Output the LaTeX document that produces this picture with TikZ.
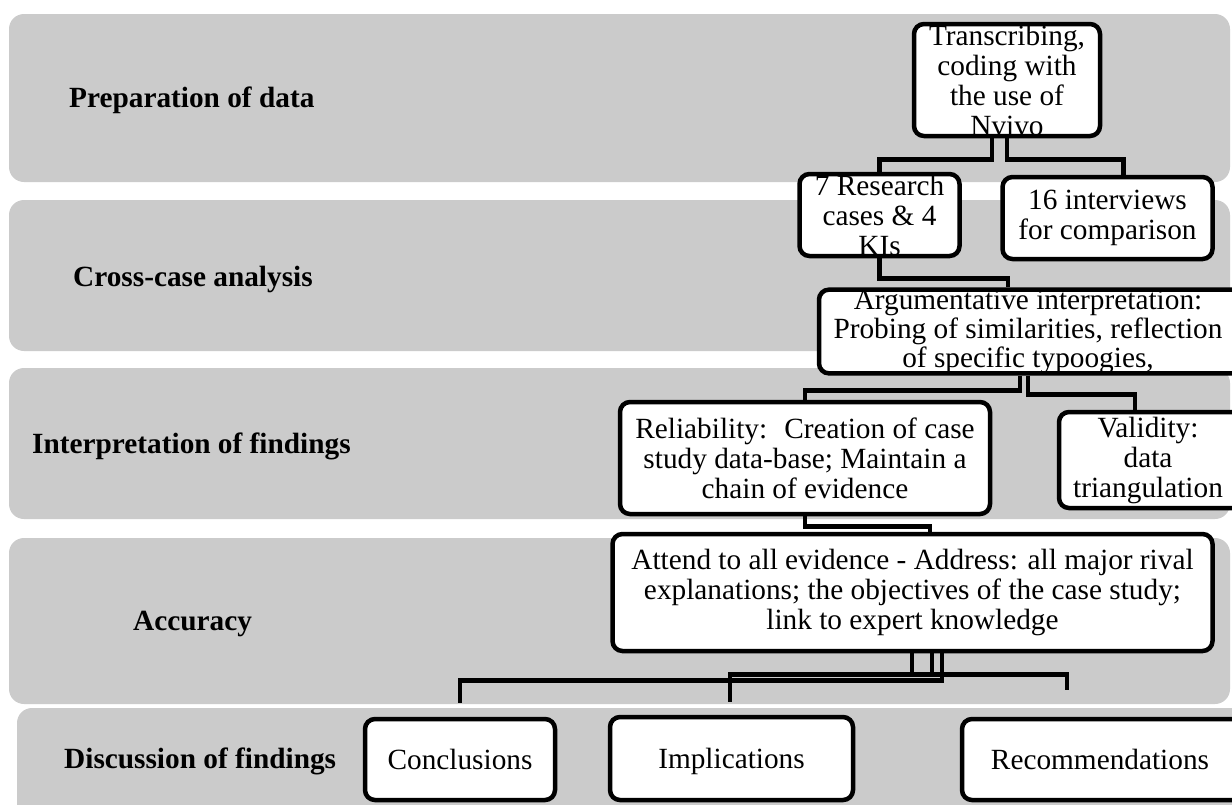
\documentclass[tikz,border=0pt]{standalone}
\usepackage{fontspec}
\setmainfont{Liberation Serif}
\definecolor{bandgray}{RGB}{203,203,203}
\begin{document}
\begin{tikzpicture}[x=1pt,y=-1pt,
  band/.style={fill=bandgray, draw=none, rounded corners=15pt},
  lab/.style={anchor=base west, font=\fontsize{29.3}{30}\selectfont\bfseries, inner sep=0pt},
  box/.style={draw=black, fill=white, line width=4.5pt, rounded corners=10pt, inner sep=0pt, align=center, font=\fontsize{29.3}{30}\selectfont},
  onebox/.style={box, text height=20pt, text depth=0pt},
  conn/.style={draw=black, line width=4.5pt}]
\useasboundingbox (0,0) rectangle (1232,804);
\clip (0,0) rectangle (1232,804);
% background bands
\path[band] (9,14) rectangle (1230,182);
\path[band] (9,200) rectangle (1230,351);
\path[band] (9,368) rectangle (1230,519);
\path[band] (9,538) rectangle (1230,704);
\path[band] (17,708) rectangle (1260,840);
% row labels
\node[lab] (l1) at (69,107) {Preparation of data};
\node[lab] (l2) at (73,286) {Cross-case analysis};
\node[lab] (l3) at (32,453) {Interpretation of findings};
\node[lab] (l4) at (133,630) {Accuracy};
\node[lab] (l5) at (64,768) {Discussion of findings};
% boxes
\node[box, minimum width=186pt, minimum height=112pt] (trans) at (1007,80) {Transcribing,\\coding with\\the use of\\Nvivo};
\node[box, minimum width=160pt, minimum height=82pt] (res7) at (879.5,215) {7 Research\\cases \& 4\\KIs};
\node[box, minimum width=210pt, minimum height=82pt] (int16) at (1107.5,218) {16 interviews\\for comparison};
\node[box, align=none, minimum height=83pt, font=\fontsize{29.3}{29}\selectfont] (arg) at (1058,331.5) {\parbox{418pt}{\centering Argumentative interpretation:\\Probing of similarities, reflection\\of specific typoogies,}\hspace*{60pt}};
\node[box, minimum width=370pt, minimum height=112pt] (rel) at (805,458) {Reliability:~ Creation of case\\study data-base; Maintain a\\chain of evidence};
\node[box, align=none, minimum height=96pt] (val) at (1178,460) {\parbox{178pt}{\centering Validity:\\data\\triangulation}\hspace*{60pt}};
\node[box, minimum width=600pt, minimum height=117pt] (att) at (912.5,592.5) {Attend to all evidence - Address: all major rival\\explanations; the objectives of the case study;\\link to expert knowledge};
\node[onebox, minimum width=190pt, minimum height=81pt] (conc) at (460,759.5) {Conclusions};
\node[onebox, minimum width=243pt, minimum height=83pt] (impl) at (731.5,758.5) {Implications};
\node[onebox, align=none, minimum height=81pt] (rec) at (1130,759.5) {\makebox[276pt]{Recommendations}\hspace*{60pt}};
% free ends
\coordinate (recend) at (1067,690);
\coordinate (implend) at (730,702);
\coordinate (concend) at (460,703);
% connectors
\draw[conn] ([xshift=-15pt]trans.south) -- ++(0,21) -| (res7.north);
\draw[conn] (trans.south) -- ++(0,21) -| ([xshift=16pt]int16.north);
\draw[conn] (res7.south) -- ++(0,20) -| ([xshift=-50pt]arg.north);
\draw[conn] ([xshift=-38pt]arg.south) -- ++(0,15) -| (rel.north);
\draw[conn] ([xshift=-30pt]arg.south) -- ++(0,19) -| ([xshift=-43pt]val.north);
\draw[conn] (rel.south) -- ++(0,10) -| ([xshift=17.5pt]att.north);
\draw[conn] ([xshift=-0.5pt]att.south) -- ++(0,21) -| (recend);
\draw[conn] ([xshift=19.5pt]att.south) -- ++(0,21) -| (implend);
\draw[conn] ([xshift=29.5pt]att.south) -- ++(0,27) -| (concend);
\end{tikzpicture}
\end{document}
